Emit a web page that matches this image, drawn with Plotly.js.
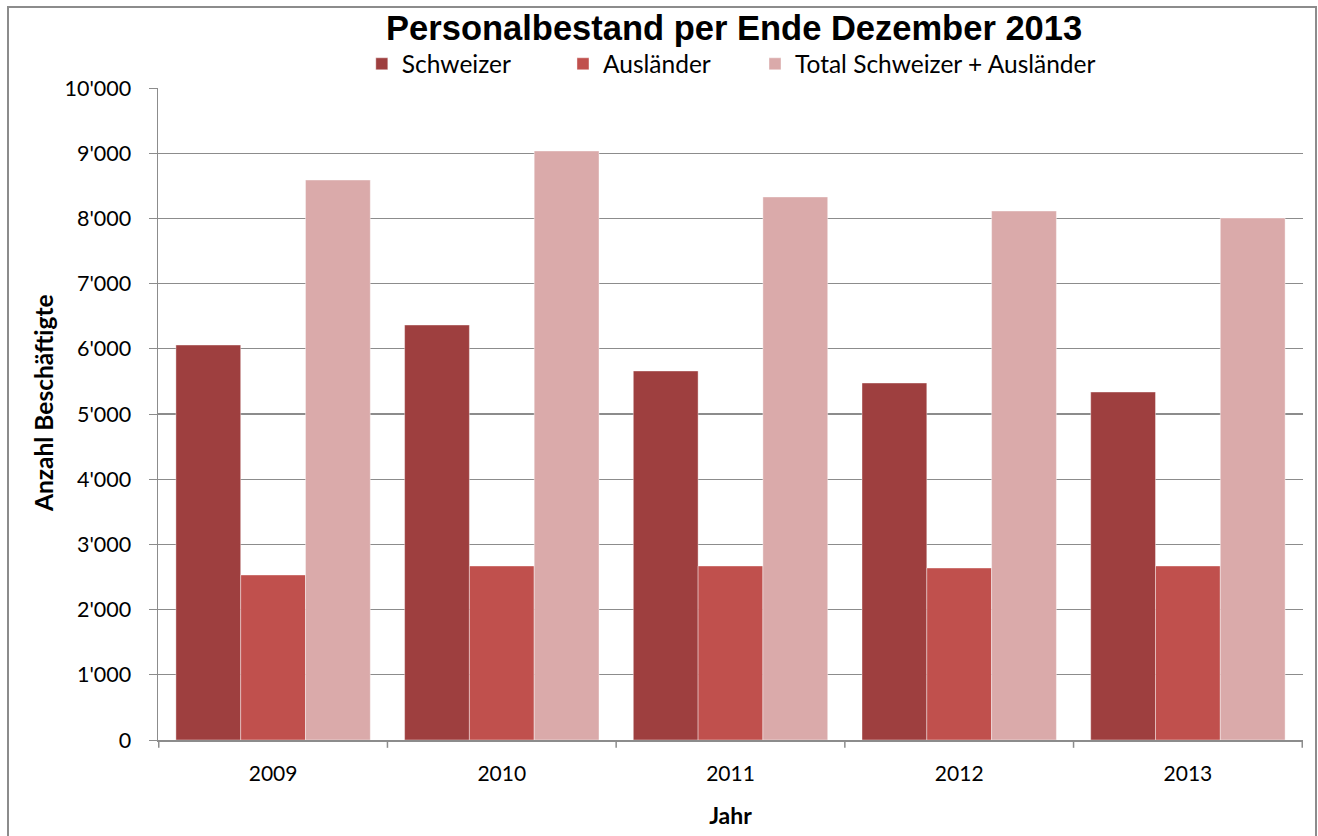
<!DOCTYPE html>
<html><head><meta charset="utf-8">
<script src="https://cdn.plot.ly/plotly-3.0.1.min.js"></script>
<style>
html,body{margin:0;padding:0;background:#fff;}
#chart{position:absolute;left:0;top:0;width:1318px;height:836px;}
#frame{position:absolute;left:7px;top:6px;width:1306px;height:850px;border:2px solid #8c8c8c;pointer-events:none;}
</style></head>
<body>
<div id="chart"></div>
<div id="frame"></div>
<script>
var years = ['2009','2010','2011','2012','2013'];
var schweizer = [6058, 6365, 5660, 5475, 5337];
var auslaender = [2531, 2669, 2669, 2638, 2669];
var total = [8589, 9034, 8329, 8113, 8006];
var seriesNames = ['Schweizer','Ausländer','Total Schweizer + Ausländer'];
var seriesColors = ['#9E3F3F','#C0504D','#DAAAAA'];
var yTicks = [0,1000,2000,3000,4000,5000,6000,7000,8000,9000,10000];

var font = 'Lato, "Open Sans", sans-serif';
var legendIds = ['legend','legend2','legend3'];
var legendX = [0.178, 0.3537, 0.5214];
var data = [schweizer, auslaender, total].map(function(v,i){
  return {type:'bar', x:years, y:v, name:seriesNames[i], legend:legendIds[i],
    marker:{color:seriesColors[i], line:{color:'rgba(255,255,255,0.4)', width:1}},
    hoverinfo:'y+name'};
});
function legendCfg(x){
  return {orientation:'h', x:x, xanchor:'left', y:1.037, yanchor:'middle',
    font:{family:font, size:24.5, color:'#000'}, itemwidth:30,
    bgcolor:'rgba(0,0,0,0)', borderwidth:0};
}
var layout = {
  width:1318, height:836,
  paper_bgcolor:'rgba(0,0,0,0)', plot_bgcolor:'#fff',
  separators:".'",
  margin:{l:158, r:15, t:88, b:96},
  barmode:'group', bargap:0.15, bargroupgap:0,
  title:{text:'<b>Personalbestand per Ende Dezember 2013</b>', x:0.557, xanchor:'center', y:0.966, yanchor:'middle',
    font:{family:'"Liberation Sans", Arial, sans-serif', size:34.5, color:'#000'}},
  showlegend:true,
  legend:legendCfg(legendX[0]),
  legend2:legendCfg(legendX[1]),
  legend3:legendCfg(legendX[2]),
  xaxis:{type:'category', showgrid:false, showline:true, linecolor:'#8c8c8c', linewidth:1.5,
    ticks:'', ticklabelstandoff:14, tickfont:{family:font, size:21, color:'#000'},
    title:{text:'<b>Jahr</b>', font:{family:font, size:23, color:'#000'}, standoff:24},
    fixedrange:true},
  yaxis:{range:[0,10000], tickvals:yTicks, tickformat:',d', showgrid:true, gridcolor:'#8c8c8c', gridwidth:1.2,
    showline:true, linecolor:'#8c8c8c', linewidth:1.5, ticks:'outside', ticklen:8, tickcolor:'#8c8c8c',
    ticklabelstandoff:13,
    tickfont:{family:font, size:21.5, color:'#000'}, zeroline:false,
    fixedrange:true},
  annotations:[{text:'<b>Anzahl Beschäftigte</b>', xref:'paper', yref:'paper',
    x:(43-158)/1145, y:(740-403)/652, xanchor:'center', yanchor:'middle', textangle:-90,
    showarrow:false, font:{family:font, size:24.5, color:'#000'}}],
  shapes: years.slice(0).concat(['end']).map(function(y,i){
    return {type:'line', xref:'x', yref:'paper', x0:i-0.5, x1:i-0.5, y0:0, y1:-0.012,
      line:{color:'#8c8c8c', width:1.5}};
  })
};
Plotly.newPlot('chart', data, layout, {displayModeBar:false, staticPlot:true});
</script>
</body></html>
